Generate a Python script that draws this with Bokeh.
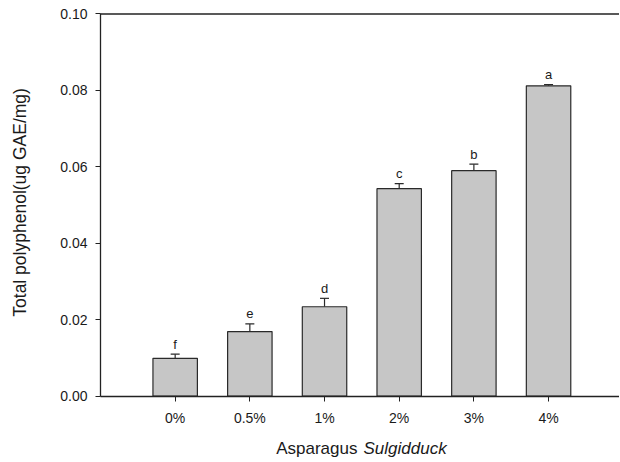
import math
from bokeh.plotting import figure
from bokeh.models import (ColumnDataSource, Range1d, FixedTicker, Whisker, TeeHead,
                          NumeralTickFormatter)
from bokeh.core.properties import value
from bokeh.embed import file_html
from bokeh.resources import INLINE

categories = ["0%", "0.5%", "1%", "2%", "3%", "4%"]
positions = [1, 2, 3, 4, 5, 6]
means = [0.0099, 0.0169, 0.0234, 0.0543, 0.0590, 0.0812]
errors = [0.0011, 0.0020, 0.0022, 0.0013, 0.0017, 0.0003]
letters = ["f", "e", "d", "c", "b", "a"]
y_ticks = [0.0, 0.02, 0.04, 0.06, 0.08, 0.10]
x_title_parts = ["Asparagus", "Sulgidduck"]
y_title = "Total polyphenol(ug GAE/mg)"

FONT = "Liberation Sans"
TXT = "#1a1a1a"
AX = "#222222"

X_END = 6.95
Y_TOP = 0.1

upper = [m + e for m, e in zip(means, errors)]
src = ColumnDataSource(dict(x=positions, top=means, upper=upper, lab=letters))

# the frame covers the whole canvas; axes are drawn at x = 0 and y = 0
p = figure(width=619, height=461, output_backend="svg", toolbar_location=None,
           x_range=Range1d(-1.339, X_END), y_range=Range1d(-0.01709, 0.10353),
           min_border_left=0, min_border_right=0, min_border_top=0, min_border_bottom=0)
p.outline_line_color = None
p.grid.visible = False
p.background_fill_color = "white"
p.border_fill_color = "white"

p.vbar(x="x", top="top", bottom=0, width=0.595, source=src,
       fill_color="#c6c6c6", line_color="#2a2a2a", line_width=1.2)

w = Whisker(base="x", lower="top", upper="upper", source=src,
            line_color="#2a2a2a", line_width=1.2,
            upper_head=TeeHead(size=9, line_color="#2a2a2a", line_width=1.2),
            lower_head=None)
p.add_layout(w)

p.text(x="x", y="upper", text="lab", source=src, text_align="center",
       text_baseline="alphabetic", y_offset=-10, text_font=value(FONT),
       text_font_size="13px", text_color=TXT)

# top frame line
p.segment(x0=[0], y0=[Y_TOP], x1=[X_END], y1=[Y_TOP], line_color=AX, line_width=1.3)

# y axis
ya = p.yaxis[0]
ya.fixed_location = 0
ya.bounds = (0, Y_TOP)
ya.ticker = FixedTicker(ticks=y_ticks)
ya.formatter = NumeralTickFormatter(format="0.00")
ya.major_label_text_font = FONT
ya.major_label_text_font_size = "14px"
ya.major_label_text_color = TXT
ya.major_label_standoff = 8
ya.major_tick_out = 5
ya.major_tick_in = 0
ya.minor_tick_out = 0
ya.minor_tick_in = 0
ya.axis_line_color = AX
ya.axis_line_width = 1.3
ya.major_tick_line_color = AX

# x axis
xa = p.xaxis[0]
xa.fixed_location = 0
xa.bounds = (0, X_END)
xa.ticker = FixedTicker(ticks=positions)
xa.major_label_overrides = {pos: c for pos, c in zip(positions, categories)}
xa.major_label_text_font = FONT
xa.major_label_text_font_size = "14px"
xa.major_label_text_color = TXT
xa.major_label_standoff = 9
xa.major_tick_out = 5
xa.major_tick_in = 0
xa.minor_tick_out = 0
xa.minor_tick_in = 0
xa.axis_line_color = AX
xa.axis_line_width = 1.3
xa.major_tick_line_color = AX

# axis titles
p.text(x=[-1.078], y=[0.0507], text=[y_title], angle=math.pi / 2, text_align="center",
       text_baseline="middle", text_font=value(FONT), text_font_size="17.5px",
       text_color=TXT)
p.text(x=[3.441], y=[-0.0137], text=[x_title_parts[0]], text_align="right",
       text_baseline="alphabetic", text_font=value(FONT), text_font_size="17px",
       text_color=TXT)
p.text(x=[3.522], y=[-0.0137], text=[x_title_parts[1]], text_align="left",
       text_baseline="alphabetic", text_font=value(FONT), text_font_size="17px",
       text_font_style="italic", text_color=TXT)

open("out.html", "w").write(file_html(p, INLINE))
